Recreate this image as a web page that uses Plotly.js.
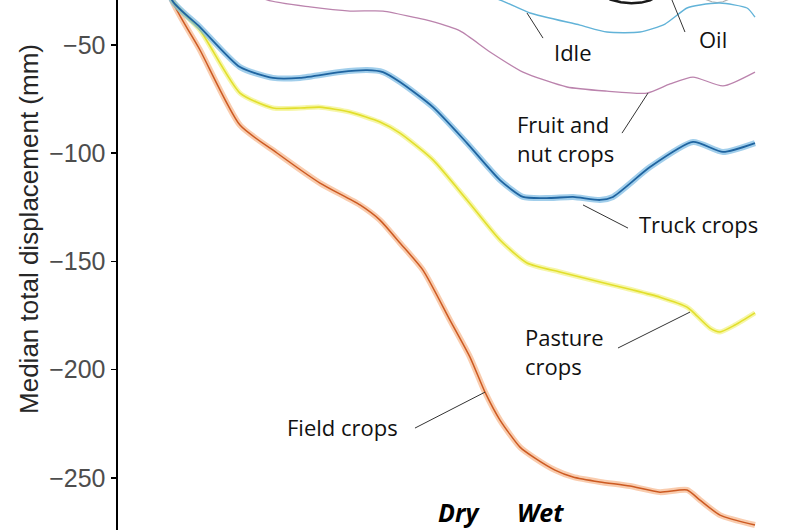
<!DOCTYPE html>
<html>
<head>
<meta charset="utf-8">
<script src="https://cdn.plot.ly/plotly-3.0.1.min.js"></script>
<style>html,body{margin:0;padding:0;background:#fff;}#chart{width:800px;height:530px;}</style>
</head>
<body>
<div id="chart"></div>
<script>
// Time index (arbitrary units, 0 = start of record, 100 = end)
const fieldX = [-2, 0, 4.8, 11.66, 18.01, 25.39, 32.25, 35.68, 39.11, 43.05, 47.68, 51.11, 53.69, 56.26, 59.69, 62.26, 65.69, 68.78, 73.41, 78.56, 83.7, 88.34, 90.57, 94.0, 100];
const fieldY = [0, -29.2, -52.3, -87.0, -99.9, -113.8, -123.9, -130.9, -141.5, -154.0, -177.1, -194.2, -210.4, -223.3, -235.8, -240.9, -246.4, -249.6, -251.9, -253.8, -256.6, -255.6, -260.3, -267.2, -271.8];

const pastureX = [-2, 0, 4.8, 11.66, 17.32, 21.96, 25.39, 30.53, 35.68, 39.11, 44.77, 50.6, 56.26, 60.89, 66.55, 73.41, 79.07, 83.7, 88.34, 89.37, 92.28, 94.0, 96.57, 100];
const pastureY = [0, -29.2, -43.1, -72.2, -79.1, -79.1, -78.7, -81.0, -85.6, -90.7, -103.1, -121.6, -140.1, -150.7, -154.9, -159.5, -163.2, -166.5, -171.1, -173.4, -180.8, -182.6, -179.4, -173.8];

const truckX = [-2, 0, 4.8, 11.66, 17.32, 21.96, 28.82, 33.45, 36.19, 39.11, 44.77, 50.6, 56.26, 60.21, 64.84, 68.78, 73.41, 75.64, 81.99, 89.37, 94.51, 100];
const truckY = [0, -29.2, -41.7, -60.2, -65.2, -65.2, -62.5, -61.6, -62.5, -67.1, -78.7, -95.3, -112.4, -120.2, -120.7, -120.2, -121.6, -120.2, -106.4, -94.8, -99.4, -95.3];

const fruitX = [-2, 0, 8, 16.3, 23.67, 30.53, 36.19, 42.02, 44.25, 49.4, 54.55, 60.21, 67.75, 74.61, 81.48, 85.42, 89.37, 94.51, 100];
const fruitY = [0, -6, -18, -29.2, -32.4, -34.3, -34.3, -37.5, -38.9, -43.5, -53.2, -62.5, -69.4, -71.3, -72.2, -68.0, -64.8, -68.9, -62.5];

const idleX = [-2, 0, 30, 46, 56.26, 61.41, 69.98, 74.61, 80.27, 84.56, 88.34, 90.57, 94.0, 98.63, 100];
const idleY = [0, -3, -12, -22, -29.2, -35.2, -40.8, -44.0, -44.0, -40.3, -32.9, -31.5, -30.6, -32.9, -37.1];

const oilX = [70, 75.2, 77.0, 78.8, 80.5, 82.0, 84, 88];
const oilY = [-20, -29.0, -30.2, -30.7, -30.4, -29.4, -26, -20];

const otherX = [88, 91.5, 92.6, 93.5, 94.5, 95.5, 99];
const otherY = [-22, -28.9, -30.0, -30.4, -30.0, -28.9, -22];

const yTicks = [-250, -200, -150, -100, -50];
const yTitle = "Median total displacement (mm)";
const seriesLabels = ["Idle", "Oil", "Fruit and<br>nut crops", "Truck crops", "Pasture<br>crops", "Field crops"];
const seasonLabels = ["Dry", "Wet"];

function band(x, y, color, w) {
  return {x: x, y: y, mode: 'lines', line: {color: color, width: w, shape: 'spline', smoothing: 0.6}, hoverinfo: 'skip'};
}
function line(x, y, color, w, shape) {
  return {x: x, y: y, mode: 'lines', line: {color: color, width: w, shape: shape || 'spline', smoothing: 0.6}};
}

const data = [
  line(otherX, otherY, '#b0b0b0', 1.2, 'linear'),
  line(oilX, oilY, '#1a1a1a', 2.5, 'linear'),
  line(idleX, idleY, '#62b3d8', 1.4),
  line(fruitX, fruitY, '#bb83ad', 1.3),
  band(fieldX, fieldY, 'rgba(245,170,120,0.6)', 6),
  line(fieldX, fieldY, '#cc5a22', 1.5),
  band(pastureX, pastureY, 'rgba(240,240,110,0.6)', 5),
  line(pastureX, pastureY, '#e2df2c', 1.6),
  band(truckX, truckY, 'rgba(110,180,225,0.65)', 6),
  line(truckX, truckY, '#1f64a0', 1.8)
];

const lblFont = {family: 'Open Sans, sans-serif', size: 22, color: '#111'};
function lbl(text, x, y) {
  return {text: text, x: x, y: y, xref: 'x', yref: 'y', xanchor: 'left', yanchor: 'middle', align: 'left', showarrow: false, font: lblFont};
}
const seasonFont = {family: 'Open Sans, sans-serif', size: 25, color: '#000'};
const annotations = [
  lbl(seriesLabels[0], 65.18, -53.2),
  lbl(seriesLabels[1], 90.05, -47.2),
  lbl(seriesLabels[2], 58.83, -93.4),
  lbl(seriesLabels[3], 79.76, -132.7),
  lbl(seriesLabels[4], 60.21, -191.4),
  lbl(seriesLabels[5], 19.38, -226.3),
  {text: '<b><i>' + seasonLabels[0] + '</i></b>', x: 49.23, y: -265.6, xref: 'x', yref: 'y', xanchor: 'center', yanchor: 'middle', showarrow: false, font: seasonFont},
  {text: '<b><i>' + seasonLabels[1] + '</i></b>', x: 63.29, y: -265.6, xref: 'x', yref: 'y', xanchor: 'center', yanchor: 'middle', showarrow: false, font: seasonFont},
  {text: yTitle, textangle: -90, x: -0.1305, y: 0.568, xref: 'paper', yref: 'paper', xanchor: 'center', yanchor: 'middle', showarrow: false, font: {family: 'Liberation Sans, Arial, sans-serif', size: 26, color: '#262626'}}
];

function leader(x0, y0, x1, y1) {
  return {type: 'line', xref: 'x', yref: 'y', x0: x0, y0: y0, x1: x1, y1: y1, line: {color: '#333', width: 1}};
}
const shapes = [
  leader(60.89, -35.2, 63.64, -46.8),
  leader(85.76, -29.2, 87.99, -44.0),
  leader(81.65, -72.2, 77.19, -90.7),
  leader(70.5, -123.9, 78.22, -134.6),
  leader(88.85, -173.4, 76.5, -190.0),
  leader(53.69, -210.4, 41.68, -227.0)
];

const layout = {
  width: 800, height: 530,
  margin: {l: 118, r: 0, t: 0, b: 0, pad: 0},
  paper_bgcolor: '#fff', plot_bgcolor: '#fff',
  showlegend: false,
  xaxis: {range: [-9.26, 107.72], visible: false, showgrid: false, zeroline: false},
  yaxis: {
    range: [-274.1, -29.2], showgrid: false, zeroline: false,
    showline: true, linecolor: '#000', linewidth: 2.5,
    ticks: 'outside', ticklen: 5, tickwidth: 1.5, tickcolor: '#000',
    tickvals: yTicks, ticktext: yTicks.map(v => '\u2212' + Math.abs(v)),
    tickfont: {family: 'Liberation Sans, Arial, sans-serif', size: 25, color: '#4d4d4d'}
  },
  annotations: annotations,
  shapes: shapes
};

Plotly.newPlot('chart', data, layout, {staticPlot: true, displayModeBar: false});
</script>
</body>
</html>
